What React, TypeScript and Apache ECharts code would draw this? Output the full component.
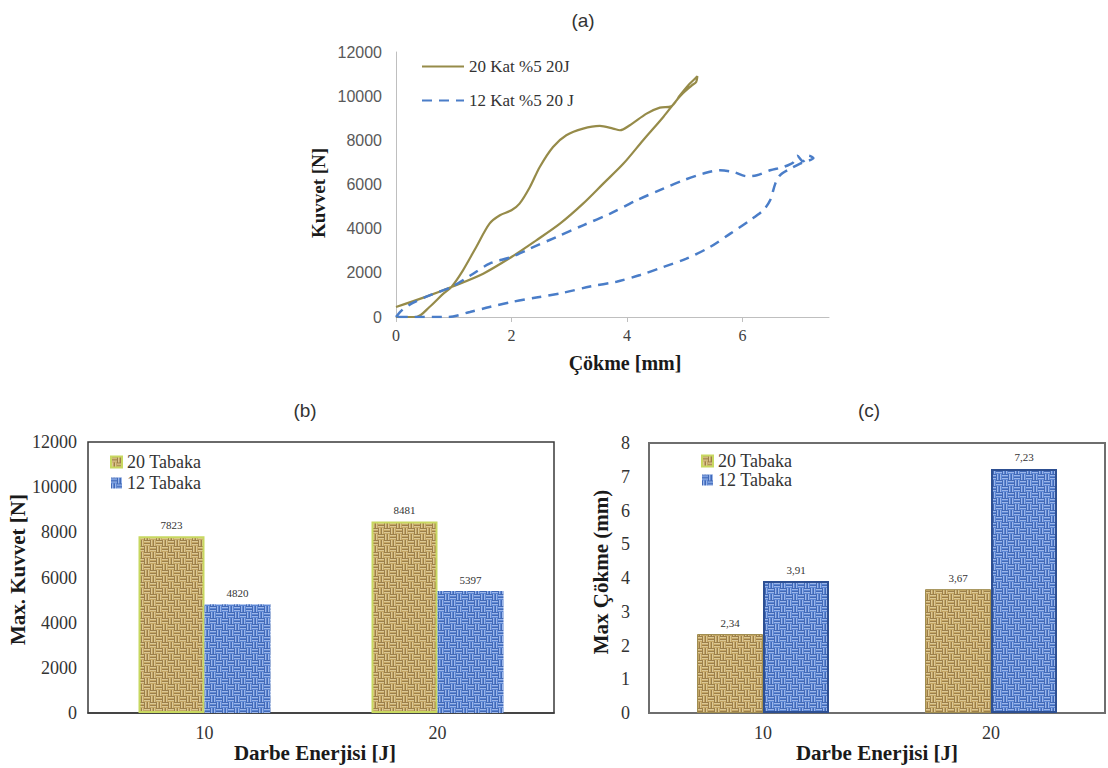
import React, { useEffect, useRef } from 'react';
import * as echarts from 'echarts';

// ---------- Chart (a): force–deflection curves ----------
const curveNames = ['20 Kat %5 20J', '12 Kat %5 20 J'];
const olive20X = [0, 0.35, 0.58, 0.82, 0.96, 1.16, 1.39, 1.62, 1.8, 2.0, 2.14, 2.32, 2.49, 2.72, 2.95, 3.24, 3.53, 3.76, 3.88, 4.05, 4.34, 4.57, 4.77, 4.92, 5.09, 5.18, 5.22, 5.2, 5.12, 4.92, 4.63, 4.28, 3.94, 3.59, 3.24, 2.84, 2.43, 2.0, 1.51, 0.96, 0.5, 0];
const olive20Y = [0, 0, 453, 1057, 1360, 2114, 3171, 4228, 4606, 4832, 5134, 5889, 6795, 7701, 8230, 8532, 8652, 8532, 8456, 8683, 9211, 9483, 9543, 10042, 10570, 10797, 10900, 10650, 10480, 10000, 9060, 8003, 6946, 6040, 5134, 4228, 3473, 2718, 1963, 1360, 900, 453];
const blue12X = [0, 0.1, 0.3, 0.6, 0.96, 1.3, 1.62, 2.0, 2.32, 2.78, 3.24, 3.71, 4.17, 4.63, 4.98, 5.32, 5.61, 5.84, 6.08, 6.25, 6.48, 6.71, 6.88, 6.95, 7.05, 7.15, 7.23, 7.0, 6.83, 6.65, 6.57, 6.48, 6.36, 6.13, 5.79, 5.44, 5.03, 4.63, 4.23, 3.82, 3.36, 2.9, 2.43, 2.0, 1.62, 1.28, 0.9, 0];
const blue12Y = [0, 300, 650, 1000, 1360, 1900, 2416, 2718, 3096, 3624, 4153, 4681, 5285, 5814, 6191, 6493, 6644, 6569, 6372, 6418, 6644, 6795, 7000, 7300, 7050, 7300, 7200, 6950, 6720, 6418, 6040, 5285, 4832, 4379, 3775, 3171, 2643, 2265, 1900, 1600, 1380, 1100, 880, 680, 453, 227, 0, 0];
const deflTicks = [0, 2, 4, 6];

// ---------- Charts (b) and (c): bars ----------
const barNames = ['20 Tabaka', '12 Tabaka'];
const energyCategories = ['10', '20'];
const maxForce20 = [7823, 8481];
const maxForce12 = [4820, 5397];
const maxDefl20 = [2.34, 3.67];
const maxDefl12 = [3.91, 7.23];

const SERIF = "'Liberation Serif', 'Times New Roman', serif";
const SANS = "'Liberation Sans', Arial, sans-serif";

function weave(base: string, dark: string, light: string) {
  const c = document.createElement('canvas');
  c.width = 12;
  c.height = 12;
  const g = c.getContext('2d') as CanvasRenderingContext2D;
  g.fillStyle = base;
  g.fillRect(0, 0, 12, 12);
  const cells: [number, number, string][] = [[0, 0, 'h'], [6, 0, 'v'], [0, 6, 'v'], [6, 6, 'h']];
  for (const [ox, oy, dir] of cells) {
    for (let k = 0; k < 6; k += 3) {
      g.fillStyle = dark;
      if (dir === 'h') g.fillRect(ox, oy + k, 6, 1);
      else g.fillRect(ox + k, oy, 1, 6);
      g.fillStyle = light;
      if (dir === 'h') g.fillRect(ox, oy + k + 1, 6, 1);
      else g.fillRect(ox + k + 1, oy, 1, 6);
    }
  }
  return { image: c, repeat: 'repeat', imageWidth: 12, imageHeight: 12 } as any;
}

export default function App() {
  const ref = useRef<HTMLDivElement>(null);
  useEffect(() => {
    const chart = echarts.init(ref.current as HTMLDivElement, null, { renderer: 'svg' });
    const tan = weave('#c5a766', '#9c7f4a', '#dcc894');
    const blue = weave('#5d87d4', '#4269b6', '#9bb6ea');
    const titleStyle = { fontFamily: SANS, fontSize: 19, fontWeight: 'normal' as const, color: '#333' };
    const boldName = (size: number, padding: number[]) => ({
      fontFamily: SERIF, fontWeight: 'bold' as const, fontSize: size, color: '#1a1a1a', padding,
    });
    const barLabel = (fmt: (v: number) => string) => ({
      show: true, position: 'top' as const, distance: 6, fontFamily: SERIF, fontSize: 11, color: '#333',
      formatter: (p: any) => fmt(p.value),
    });

    chart.setOption({
      animation: false,
      backgroundColor: '#ffffff',
      title: [
        { text: '(a)', left: 578, top: 6, textAlign: 'center', textStyle: titleStyle },
        { text: '(b)', left: 300, top: 396, textAlign: 'center', textStyle: titleStyle },
        { text: '(c)', left: 864, top: 396, textAlign: 'center', textStyle: titleStyle },
      ],
      legend: [
        {
          data: curveNames, left: 416, top: 53, orient: 'vertical', itemWidth: 42, itemHeight: 10, itemGap: 17,
          selectedMode: false, itemStyle: { opacity: 0 },
          textStyle: { fontFamily: SERIF, fontSize: 17, color: '#333' },
        },
        {
          data: barNames, left: 105, top: 448, orient: 'vertical', itemWidth: 11, itemHeight: 11, itemGap: 3,
          selectedMode: false, icon: 'rect', textStyle: { fontFamily: SERIF, fontSize: 18, color: '#333' },
        },
        {
          data: barNames, left: 696, top: 447, orient: 'vertical', itemWidth: 11, itemHeight: 11, itemGap: 1,
          selectedMode: false, icon: 'rect', textStyle: { fontFamily: SERIF, fontSize: 18, color: '#333' },
        },
      ],
      grid: [
        { left: 396, top: 52, width: 433, height: 265, show: false },
        { left: 88, top: 442, width: 466, height: 271, show: true, borderColor: '#3a3a3a', borderWidth: 1.5 },
        { left: 649, top: 443, width: 456, height: 270, show: true, borderColor: '#6e6e6e', borderWidth: 2 },
      ],
      xAxis: [
        {
          gridIndex: 0, type: 'value', min: 0, max: 7.5, interval: 2,
          axisLine: { show: true, onZero: false, lineStyle: { color: '#bfbfbf', width: 1 } },
          axisTick: { show: true, length: 5, customValues: deflTicks, lineStyle: { color: '#bfbfbf' } },
          axisLabel: { customValues: deflTicks, fontFamily: SERIF, fontSize: 16, color: '#404040', margin: 10, formatter: (v: number) => String(v) },
          splitLine: { show: false },
          name: 'Çökme [mm]', nameLocation: 'middle', nameGap: 36, nameTextStyle: boldName(20, [0, 0, 0, 25]),
        },
        {
          gridIndex: 1, type: 'category', data: energyCategories,
          axisLine: { show: true, lineStyle: { color: '#3a3a3a', width: 1.5 } },
          axisTick: { show: false },
          axisLabel: { fontFamily: SERIF, fontSize: 18, color: '#333', margin: 11 },
          name: 'Darbe Enerjisi [J]', nameLocation: 'middle', nameGap: 29, nameTextStyle: boldName(21, [0, 12, 0, 0]),
        },
        {
          gridIndex: 2, type: 'category', data: energyCategories,
          axisLine: { show: true, lineStyle: { color: '#6e6e6e', width: 2 } },
          axisTick: { show: false },
          axisLabel: { fontFamily: SERIF, fontSize: 18, color: '#333', margin: 11 },
          name: 'Darbe Enerjisi [J]', nameLocation: 'middle', nameGap: 29, nameTextStyle: boldName(21, [0, 0, 0, 0]),
        },
      ],
      yAxis: [
        {
          gridIndex: 0, type: 'value', min: 0, max: 12000, interval: 2000,
          axisLine: { show: true, onZero: false, lineStyle: { color: '#bfbfbf', width: 1 } },
          axisTick: { show: false },
          axisLabel: { fontFamily: SANS, fontSize: 16, color: '#595959', margin: 14, formatter: (v: number) => String(v) },
          splitLine: { show: false },
          name: 'Kuvvet [N]', nameLocation: 'middle', nameGap: 68, nameTextStyle: boldName(19, [0, 17, 0, 0]),
        },
        {
          gridIndex: 1, type: 'value', min: 0, max: 12000, interval: 2000,
          axisLine: { show: false }, axisTick: { show: false }, splitLine: { show: false },
          axisLabel: { fontFamily: SERIF, fontSize: 18, color: '#333', margin: 11, formatter: (v: number) => String(v) },
          name: 'Max. Kuvvet [N]', nameLocation: 'middle', nameGap: 56, nameTextStyle: boldName(21, [0, 0, 0, 16]),
        },
        {
          gridIndex: 2, type: 'value', min: 0, max: 8, interval: 1,
          axisLine: { show: false }, axisTick: { show: false }, splitLine: { show: false },
          axisLabel: { fontFamily: SERIF, fontSize: 18, color: '#333', margin: 19, formatter: (v: number) => String(v) },
          name: 'Max Çökme (mm)', nameLocation: 'middle', nameGap: 38, nameTextStyle: boldName(21, [0, 0, 0, 12]),
        },
      ],
      series: [
        {
          name: curveNames[0], type: 'line', xAxisIndex: 0, yAxisIndex: 0,
          data: olive20X.map((x, i) => [x, olive20Y[i]]),
          symbol: 'none', showSymbol: false, smooth: 0.3,
          lineStyle: { color: '#968b49', width: 2.2 }, itemStyle: { color: '#968b49' },
        },
        {
          name: curveNames[1], type: 'line', xAxisIndex: 0, yAxisIndex: 0,
          data: blue12X.map((x, i) => [x, blue12Y[i]]),
          symbol: 'none', showSymbol: false, smooth: 0.3,
          lineStyle: { color: '#4a7dc8', width: 2.5, type: [10, 7] }, itemStyle: { color: '#4a7dc8' },
        },
        {
          name: barNames[0], type: 'bar', xAxisIndex: 1, yAxisIndex: 1, data: maxForce20,
          barWidth: 66, barGap: '0%',
          itemStyle: { color: tan, borderColor: '#c8d860', borderWidth: 2 },
          label: barLabel((v) => String(v)),
        },
        {
          name: barNames[1], type: 'bar', xAxisIndex: 1, yAxisIndex: 1, data: maxForce12,
          barWidth: 66, barGap: '0%',
          itemStyle: { color: blue },
          label: barLabel((v) => String(v)),
        },
        {
          name: barNames[0], type: 'bar', xAxisIndex: 2, yAxisIndex: 2, data: maxDefl20,
          barWidth: 66, barGap: '0%',
          itemStyle: { color: tan, borderColor: '#a08d50', borderWidth: 1 },
          label: barLabel((v) => String(v).replace('.', ',')),
        },
        {
          name: barNames[1], type: 'bar', xAxisIndex: 2, yAxisIndex: 2, data: maxDefl12,
          barWidth: 66, barGap: '0%',
          itemStyle: { color: blue, borderColor: '#2d4f92', borderWidth: 2 },
          label: barLabel((v) => String(v).replace('.', ',')),
        },
      ],
    });
    return () => chart.dispose();
  }, []);
  return (
    <div
      ref={ref}
      style={{ position: 'absolute', left: 0, top: 0, width: 1108, height: 768, background: '#fff' }}
    />
  );
}
